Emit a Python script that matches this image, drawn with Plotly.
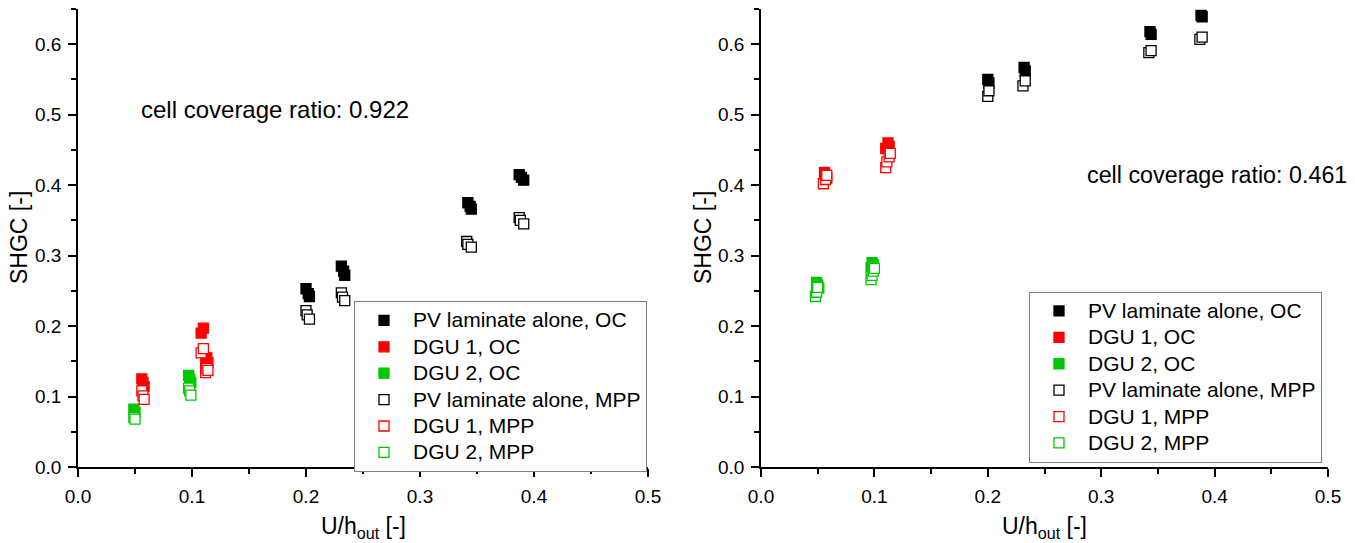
import plotly.graph_objects as go

# ---- data: left panel (cell coverage ratio 0.922) ----
L_pv_oc_x = [0.200, 0.202, 0.203, 0.231, 0.233, 0.234, 0.342, 0.344, 0.345, 0.387, 0.389, 0.391]
L_pv_oc_y = [0.253, 0.246, 0.242, 0.285, 0.278, 0.272, 0.375, 0.370, 0.366, 0.415, 0.411, 0.407]
L_d1_oc_x = [0.056, 0.057, 0.058, 0.108, 0.110, 0.112, 0.113, 0.114]
L_d1_oc_y = [0.125, 0.120, 0.114, 0.190, 0.197, 0.150, 0.155, 0.148]
L_d2_oc_x = [0.049, 0.050, 0.097, 0.098, 0.099]
L_d2_oc_y = [0.082, 0.078, 0.130, 0.125, 0.120]
L_pv_mpp_x = [0.200, 0.201, 0.203, 0.231, 0.232, 0.234, 0.341, 0.342, 0.345, 0.387, 0.388, 0.391]
L_pv_mpp_y = [0.222, 0.216, 0.210, 0.247, 0.241, 0.236, 0.320, 0.316, 0.312, 0.354, 0.350, 0.345]
L_d1_mpp_x = [0.056, 0.057, 0.058, 0.108, 0.110, 0.112, 0.113, 0.114]
L_d1_mpp_y = [0.108, 0.101, 0.096, 0.162, 0.168, 0.134, 0.140, 0.137]
L_d2_mpp_x = [0.049, 0.050, 0.097, 0.098, 0.099]
L_d2_mpp_y = [0.070, 0.068, 0.112, 0.108, 0.102]

# ---- data: right panel (cell coverage ratio 0.461) ----
R_pv_oc_x = [0.200, 0.201, 0.232, 0.233, 0.343, 0.344, 0.388, 0.389]
R_pv_oc_y = [0.550, 0.545, 0.567, 0.562, 0.618, 0.614, 0.641, 0.639]
R_d1_oc_x = [0.056, 0.057, 0.058, 0.110, 0.112, 0.113]
R_d1_oc_y = [0.418, 0.414, 0.410, 0.452, 0.460, 0.455]
R_d2_oc_x = [0.049, 0.050, 0.051, 0.097, 0.098, 0.099]
R_d2_oc_y = [0.262, 0.258, 0.254, 0.283, 0.290, 0.287]
R_pv_mpp_x = [0.200, 0.201, 0.231, 0.233, 0.342, 0.344, 0.387, 0.389]
R_pv_mpp_y = [0.526, 0.534, 0.541, 0.548, 0.588, 0.591, 0.607, 0.610]
R_d1_mpp_x = [0.055, 0.057, 0.058, 0.110, 0.111, 0.113, 0.114]
R_d1_mpp_y = [0.402, 0.408, 0.414, 0.425, 0.433, 0.440, 0.445]
R_d2_mpp_x = [0.048, 0.049, 0.050, 0.097, 0.098, 0.099, 0.100]
R_d2_mpp_y = [0.242, 0.248, 0.255, 0.266, 0.272, 0.278, 0.282]

names = ["PV laminate alone, OC", "DGU 1, OC", "DGU 2, OC",
         "PV laminate alone, MPP", "DGU 1, MPP", "DGU 2, MPP"]
colors = ["#000000", "#ff0000", "#00c800", "#000000", "#ff0000", "#00c800"]
filled = [True, True, True, False, False, False]

left_sets = [(L_pv_oc_x, L_pv_oc_y), (L_d1_oc_x, L_d1_oc_y), (L_d2_oc_x, L_d2_oc_y),
             (L_pv_mpp_x, L_pv_mpp_y), (L_d1_mpp_x, L_d1_mpp_y), (L_d2_mpp_x, L_d2_mpp_y)]
right_sets = [(R_pv_oc_x, R_pv_oc_y), (R_d1_oc_x, R_d1_oc_y), (R_d2_oc_x, R_d2_oc_y),
              (R_pv_mpp_x, R_pv_mpp_y), (R_d1_mpp_x, R_d1_mpp_y), (R_d2_mpp_x, R_d2_mpp_y)]

FONT = "Liberation Sans, Arial, sans-serif"
fig = go.Figure()

for sets, xa, ya, leg in [(left_sets, "x", "y", "legend"), (right_sets, "x2", "y2", "legend2")]:
    for i in range(6):
        xs, ys = sets[i]
        fig.add_trace(go.Scatter(
            x=xs, y=ys, mode="markers",
            name='<span style="font-size:21px">' + names[i] + '</span>',
            xaxis=xa, yaxis=ya, legend=leg,
            marker=dict(symbol="square", size=10,
                        color=colors[i] if filled[i] else "white",
                        line=dict(color=colors[i], width=1.3)),
        ))

axis_common = dict(
    showline=True, linecolor="black", linewidth=1.5,
    ticks="outside", ticklen=8, tickwidth=1.5, tickcolor="black",
    minor=dict(ticks="outside", ticklen=5, tickwidth=1.5, tickcolor="black", dtick=0.05),
    showgrid=False, zeroline=False, mirror=False, automargin=False,
    tickfont=dict(family=FONT, size=19, color="black"),
    tickformat=".1f", ticklabelstandoff=3,
)

legend_common = dict(xanchor="left", yanchor="top",
                     bordercolor="#808080", borderwidth=1, bgcolor="white",
                     font=dict(family=FONT, size=18, color="black"),
                     tracegroupgap=0, itemwidth=48)

title_font = dict(family=FONT, size=23, color="black")

fig.update_layout(
    width=1347, height=535,
    paper_bgcolor="white", plot_bgcolor="white",
    margin=dict(l=70, r=27, t=1, b=76, autoexpand=False),
    font=dict(family=FONT, color="black"),
    xaxis=dict(domain=[0, 0.456], range=[0, 0.5], dtick=0.1, anchor="y", **axis_common),
    yaxis=dict(domain=[0, 1], range=[0, 0.65], dtick=0.1, anchor="x", **axis_common),
    xaxis2=dict(domain=[0.5464, 1], range=[0, 0.5], dtick=0.1, anchor="y2", **axis_common),
    yaxis2=dict(domain=[0, 1], range=[0, 0.65], dtick=0.1, anchor="x2", **axis_common),
    legend=dict(x=0.2208, y=0.3620, **legend_common),
    legend2=dict(x=0.7608, y=0.3826, **legend_common),
    showlegend=True,
    annotations=[
        dict(text="cell coverage ratio: 0.922", x=0.0535, y=0.508, xref="x", yref="y",
             xanchor="left", yanchor="middle", showarrow=False,
             font=dict(family=FONT, size=24, color="black")),
        dict(text="cell coverage ratio: 0.461", x=0.2857, y=0.414, xref="x2", yref="y2",
             xanchor="left", yanchor="middle", showarrow=False,
             font=dict(family=FONT, size=23.3, color="black")),
        # axis titles
        dict(text="U/h<sub>out</sub> [-]", x=0.5, y=-0.133, xref="x domain", yref="paper",
             xanchor="center", yanchor="middle", showarrow=False, font=title_font),
        dict(text="U/h<sub>out</sub> [-]", x=0.5, y=-0.133, xref="x2 domain", yref="paper",
             xanchor="center", yanchor="middle", showarrow=False, font=title_font),
        dict(text="SHGC [-]", x=-0.0472, y=0.5, xref="paper", yref="paper", textangle=-90,
             xanchor="center", yanchor="middle", showarrow=False, font=title_font),
        dict(text="SHGC [-]", x=0.5, y=0.5, xref="paper", yref="paper", textangle=-90,
             xanchor="center", yanchor="middle", showarrow=False, font=title_font),
    ],
)

fig.write_html("out.html")
